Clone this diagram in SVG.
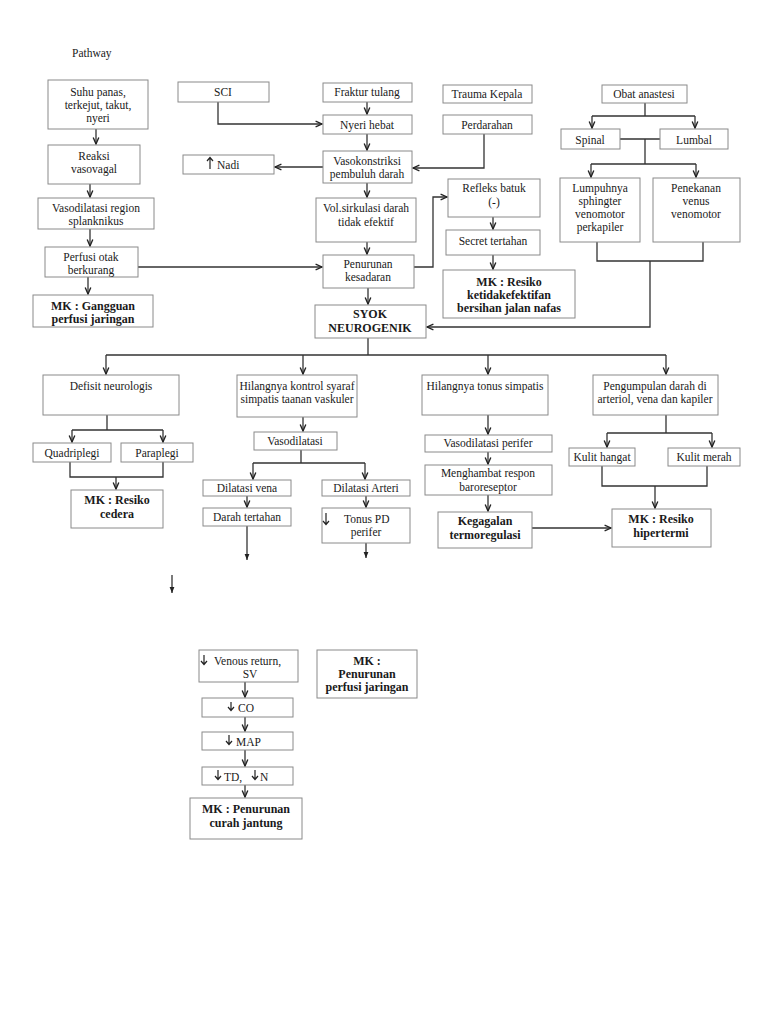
<svg xmlns="http://www.w3.org/2000/svg" width="768" height="1024" viewBox="0 0 768 1024">
<defs>
<style>
.b rect{fill:#fff;stroke:#8a8a8a;stroke-width:1}
text{font-family:"Liberation Serif","Times New Roman",serif;font-size:11.5px;fill:#1a1a1a}
.c{text-anchor:middle}
.k{font-weight:bold;font-size:12px}
.ln path,.ln line,.ln polyline{fill:none;stroke:#333;stroke-width:1.3}
.ic{fill:none;stroke:#222;stroke-width:1.2}
</style>
<marker id="a" viewBox="0 0 10 10" refX="9" refY="5" markerWidth="8" markerHeight="8" markerUnits="userSpaceOnUse" orient="auto"><path d="M1,1.5 L9,5 L1,8.5" fill="none" stroke="#222" stroke-width="1.7"/></marker>
<marker id="f" viewBox="0 0 10 10" refX="10" refY="5" markerWidth="6" markerHeight="6" markerUnits="userSpaceOnUse" orient="auto"><path d="M0,1 L10,5 L0,9z" fill="#222"/></marker>
</defs>
<rect width="768" height="1024" fill="#fff"/>
<text x="72" y="57">Pathway</text>

<g class="ln">
<path d="M96,129 V144" marker-end="url(#a)"/>
<path d="M90,184 V197" marker-end="url(#a)"/>
<path d="M90,229 V246" marker-end="url(#a)"/>
<path d="M88,277 V294" marker-end="url(#a)"/>
<path d="M138,267 H322" marker-end="url(#a)"/>
<path d="M218,102 V124 H322" marker-end="url(#a)"/>
<path d="M367,102 V114" marker-end="url(#a)"/>
<path d="M367,134 V150" marker-end="url(#a)"/>
<path d="M323,167 H275" marker-end="url(#a)"/>
<path d="M484,134 V168 H413" marker-end="url(#a)"/>
<path d="M367,183 V197" marker-end="url(#a)"/>
<path d="M367,242 V254" marker-end="url(#a)"/>
<path d="M414,267 H433 V197 H447" marker-end="url(#a)"/>
<path d="M493,217 V229" marker-end="url(#a)"/>
<path d="M493,255 V269" marker-end="url(#a)"/>
<path d="M368,288 V304" marker-end="url(#a)"/>
<path d="M645,103 V116 M592,116 H695"/>
<path d="M592,116 V128" marker-end="url(#a)"/>
<path d="M695,116 V128" marker-end="url(#a)"/>
<path d="M620,139 H660 M645,139 V164 M591,164 H696"/>
<path d="M591,164 V177" marker-end="url(#a)"/>
<path d="M696,164 V177" marker-end="url(#a)"/>
<path d="M597,242 V261 H703 V242"/>
<path d="M650,261 V327 H427" marker-end="url(#a)"/>
<path d="M368,338 V355 M106,355 H666"/>
<path d="M106,355 V374" marker-end="url(#a)"/>
<path d="M303,355 V374" marker-end="url(#a)"/>
<path d="M488,355 V374" marker-end="url(#a)"/>
<path d="M666,355 V374" marker-end="url(#a)"/>
<path d="M107,415 V430 M72,430 H163"/>
<path d="M72,430 V442" marker-end="url(#a)"/>
<path d="M163,430 V442" marker-end="url(#a)"/>
<path d="M70,462 V477 H163 V462"/>
<path d="M116,477 V489" marker-end="url(#a)"/>
<path d="M303,417 V431" marker-end="url(#a)"/>
<path d="M301,450 V463 M253,463 H365"/>
<path d="M253,463 V479" marker-end="url(#a)"/>
<path d="M365,463 V479" marker-end="url(#a)"/>
<path d="M247,496 V507" marker-end="url(#a)"/>
<path d="M366,496 V507" marker-end="url(#a)"/>
<path d="M247,526 V560" marker-end="url(#f)"/>
<path d="M366,543 V558" marker-end="url(#f)"/>
<path d="M488,415 V434" marker-end="url(#a)"/>
<path d="M488,452 V464" marker-end="url(#a)"/>
<path d="M488,495 V511" marker-end="url(#a)"/>
<path d="M532,528 H611" marker-end="url(#a)"/>
<path d="M666,415 V433 M607,433 H712"/>
<path d="M607,433 V447" marker-end="url(#a)"/>
<path d="M712,433 V447" marker-end="url(#a)"/>
<path d="M602,466 V486 H707 V466"/>
<path d="M655,486 V508" marker-end="url(#a)"/>
<path d="M172,575 V593" marker-end="url(#f)"/>
<path d="M245,682 V697" marker-end="url(#a)"/>
<path d="M245,717 V731" marker-end="url(#a)"/>
<path d="M245,750 V766" marker-end="url(#a)"/>
<path d="M245,785 V797" marker-end="url(#a)"/>
</g>

<g id="suhu" class="b"><rect x="48" y="80" width="100" height="49"/><text class="c" x="98" y="96">Suhu panas,</text><text class="c" x="98" y="109">terkejut, takut,</text><text class="c" x="98" y="122">nyeri</text></g>
<g id="reaksi" class="b"><rect x="48" y="145" width="92" height="39"/><text class="c" x="94" y="160">Reaksi</text><text class="c" x="94" y="173">vasovagal</text></g>
<g id="vasoreg" class="b"><rect x="38" y="198" width="116" height="31"/><text class="c" x="96" y="212">Vasodilatasi region</text><text class="c" x="96" y="225">splanknikus</text></g>
<g id="perfusi" class="b"><rect x="45" y="247" width="93" height="30"/><text class="c" x="91" y="261">Perfusi otak</text><text class="c" x="91" y="274">berkurang</text></g>
<g id="mk1" class="b"><rect x="33" y="295" width="120" height="32"/><text class="c k" x="93" y="310">MK : Gangguan</text><text class="c k" x="93" y="323">perfusi jaringan</text></g>

<g id="sci" class="b"><rect x="178" y="82" width="91" height="20"/><text class="c" x="223" y="96">SCI</text></g>
<g id="fraktur" class="b"><rect x="323" y="83" width="89" height="19"/><text class="c" x="367" y="96">Fraktur tulang</text></g>
<g id="nyeri" class="b"><rect x="323" y="115" width="89" height="19"/><text class="c" x="367" y="129">Nyeri hebat</text></g>
<g id="vasokon" class="b"><rect x="323" y="151" width="89" height="32"/><text class="c" x="367" y="165">Vasokonstriksi</text><text class="c" x="367" y="178">pembuluh darah</text></g>
<g id="nadi" class="b"><rect x="183" y="155" width="91" height="19"/><path class="ic" d="M210,169 V158 M207,161 L210,157.5 L213,161"/><text x="217" y="169">Nadi</text></g>
<g id="vol" class="b"><rect x="316" y="198" width="100" height="44"/><text class="c" x="366" y="212">Vol.sirkulasi darah</text><text class="c" x="366" y="226">tidak efektif</text></g>
<g id="penurunan" class="b"><rect x="323" y="255" width="91" height="33"/><text class="c" x="368" y="268">Penurunan</text><text class="c" x="368" y="281">kesadaran</text></g>
<g id="syok" class="b"><rect x="315" y="305" width="111" height="33"/><text class="c k" x="370" y="318">SYOK</text><text class="c k" x="370" y="332">NEUROGENIK</text></g>

<g id="trauma" class="b"><rect x="443" y="85" width="89" height="18"/><text class="c" x="487" y="98">Trauma Kepala</text></g>
<g id="perdarahan" class="b"><rect x="443" y="115" width="89" height="19"/><text class="c" x="487" y="129">Perdarahan</text></g>
<g id="refleks" class="b"><rect x="448" y="179" width="92" height="38"/><text class="c" x="494" y="192">Refleks batuk</text><text class="c" x="494" y="206">(-)</text></g>
<g id="secret" class="b"><rect x="446" y="230" width="94" height="25"/><text class="c" x="493" y="245">Secret tertahan</text></g>
<g id="mk2" class="b"><rect x="443" y="270" width="132" height="48"/><text class="c k" x="509" y="286">MK : Resiko</text><text class="c k" x="509" y="299">ketidakefektifan</text><text class="c k" x="509" y="312">bersihan jalan nafas</text></g>

<g id="obat" class="b"><rect x="602" y="85" width="85" height="18"/><text class="c" x="644" y="98">Obat anastesi</text></g>
<g id="spinal" class="b"><rect x="561" y="129" width="59" height="20"/><text class="c" x="590" y="144">Spinal</text></g>
<g id="lumbal" class="b"><rect x="660" y="129" width="68" height="20"/><text class="c" x="694" y="144">Lumbal</text></g>
<g id="lumpuh" class="b"><rect x="560" y="178" width="80" height="64"/><text class="c" x="600" y="192">Lumpuhnya</text><text class="c" x="600" y="205">sphingter</text><text class="c" x="600" y="218">venomotor</text><text class="c" x="600" y="231">perkapiler</text></g>
<g id="penekanan" class="b"><rect x="653" y="178" width="87" height="64"/><text class="c" x="696" y="192">Penekanan</text><text class="c" x="696" y="205">venus</text><text class="c" x="696" y="218">venomotor</text></g>

<g id="defisit" class="b"><rect x="43" y="375" width="136" height="40"/><text class="c" x="111" y="390">Defisit neurologis</text></g>
<g id="kontrol" class="b"><rect x="237" y="375" width="120" height="42"/><text class="c" x="297" y="390">Hilangnya kontrol syaraf</text><text class="c" x="297" y="403">simpatis taanan vaskuler</text></g>
<g id="tonus" class="b"><rect x="422" y="375" width="126" height="40"/><text class="c" x="485" y="390">Hilangnya tonus simpatis</text></g>
<g id="pengumpulan" class="b"><rect x="593" y="375" width="125" height="40"/><text class="c" x="655" y="390">Pengumpulan darah di</text><text class="c" x="655" y="403">arteriol, vena dan kapiler</text></g>

<g id="quad" class="b"><rect x="33" y="443" width="78" height="19"/><text class="c" x="72" y="457">Quadriplegi</text></g>
<g id="para" class="b"><rect x="121" y="443" width="72" height="19"/><text class="c" x="157" y="457">Paraplegi</text></g>
<g id="mk3" class="b"><rect x="71" y="490" width="92" height="38"/><text class="c k" x="117" y="504">MK : Resiko</text><text class="c k" x="117" y="518">cedera</text></g>

<g id="vasodil" class="b"><rect x="254" y="432" width="83" height="18"/><text class="c" x="295" y="445">Vasodilatasi</text></g>
<g id="dilvena" class="b"><rect x="203" y="480" width="88" height="16"/><text class="c" x="247" y="492">Dilatasi vena</text></g>
<g id="dilart" class="b"><rect x="322" y="480" width="88" height="16"/><text class="c" x="366" y="492">Dilatasi Arteri</text></g>
<g id="darah" class="b"><rect x="203" y="508" width="88" height="18"/><text class="c" x="247" y="521">Darah tertahan</text></g>
<g id="tonuspd" class="b"><rect x="322" y="508" width="88" height="35"/><path class="ic" d="M326,513 V524 M323,521 L326,524.5 L329,521"/><text x="344" y="523">Tonus PD</text><text class="c" x="366" y="536">perifer</text></g>

<g id="vasoper" class="b"><rect x="425" y="435" width="127" height="17"/><text class="c" x="488" y="447">Vasodilatasi perifer</text></g>
<g id="menghambat" class="b"><rect x="425" y="465" width="127" height="30"/><text class="c" x="488" y="477">Menghambat respon</text><text class="c" x="488" y="491">baroreseptor</text></g>
<g id="kegagalan" class="b"><rect x="438" y="512" width="94" height="36"/><text class="c k" x="485" y="525">Kegagalan</text><text class="c k" x="485" y="539">termoregulasi</text></g>
<g id="hangat" class="b"><rect x="569" y="448" width="66" height="18"/><text class="c" x="602" y="461">Kulit hangat</text></g>
<g id="merah" class="b"><rect x="668" y="448" width="72" height="18"/><text class="c" x="704" y="461">Kulit merah</text></g>
<g id="mk4" class="b"><rect x="612" y="509" width="99" height="38"/><text class="c k" x="661" y="523">MK : Resiko</text><text class="c k" x="661" y="537">hipertermi</text></g>

<g id="venous" class="b"><rect x="199" y="650" width="99" height="32"/><path class="ic" d="M204,655 V664 M201,661 L204,664.5 L207,661"/><text x="214" y="665">Venous return,</text><text class="c" x="250" y="678">SV</text></g>
<g id="co" class="b"><rect x="202" y="698" width="91" height="19"/><path class="ic" d="M231,702 V710 M228,707 L231,710.5 L234,707"/><text x="238" y="712">CO</text></g>
<g id="map" class="b"><rect x="202" y="732" width="91" height="18"/><path class="ic" d="M229,735 V744 M226,741 L229,744.5 L232,741"/><text x="236" y="746">MAP</text></g>
<g id="tdn" class="b"><rect x="202" y="767" width="91" height="18"/><path class="ic" d="M218,770 V779 M215,776 L218,779.5 L221,776 M255,770 V779 M252,776 L255,779.5 L258,776"/><text x="224" y="781">TD,</text><text x="260" y="781">N</text></g>
<g id="mk5" class="b"><rect x="190" y="798" width="112" height="41"/><text class="c k" x="246" y="813">MK : Penurunan</text><text class="c k" x="246" y="827">curah jantung</text></g>
<g id="mk6" class="b"><rect x="317" y="650" width="100" height="48"/><text class="c k" x="367" y="665">MK :</text><text class="c k" x="367" y="678">Penurunan</text><text class="c k" x="367" y="691">perfusi jaringan</text></g>
</svg>
